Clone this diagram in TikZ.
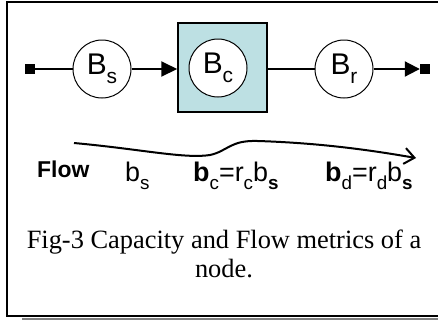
\documentclass[tikz,border=0pt]{standalone}
\usepackage{fontspec}
\setmainfont{Liberation Serif}
\setsansfont{Liberation Sans}
\usetikzlibrary{arrows.meta, positioning}
\definecolor{wire}{HTML}{000000}
\definecolor{cell-fill}{HTML}{BDE0E3}
% Lowered subscript, as the drawing sets it
\newcommand{\lsub}[1]{\raisebox{-0.3em}{\scalebox{0.7}{#1}}}
\tikzset{
  wire/.style={draw=wire, line width=2bp},
  % Buffer circles
  buffer/.style={circle, draw, line width=1bp, fill=white, minimum size=58bp,
    inner sep=0pt, font=\sffamily\fontsize{30}{34}\selectfont},
  cell/.style={rectangle, draw, line width=1.5bp, fill=cell-fill,
    minimum width=89bp, minimum height=89bp},
  % End points of the path
  port/.style={rectangle, fill=wire, minimum size=10bp, inner sep=0pt},
  metric/.style={anchor=base west, inner sep=0pt, font=\sffamily\fontsize{27}{30}\selectfont},
  caption/.style={align=center, font=\fontsize{26.5}{29}\selectfont}
}

\begin{document}
\begin{tikzpicture}[x=1bp, y=-1bp]
  \useasboundingbox (0,0) rectangle (438,320);

  % ---- Frame -------------------------------------------------------------
  \draw[gray, line width=1.5bp] (22,319) -- (440,319);
  \draw[line width=2bp] (440,2) -- (7,2) -- (7,316) -- (440,316);

  % ---- Nodes ---------------------------------------------------------------
  \node[cell] (cbox) at (222.5,67.5) {};
  \node[port] (src) at (30,69) {};
  \node[buffer] (bs) at (102,69) {B\lsub{s}};
  \node[buffer] (bc) at (218,68) {B\lsub{c}};
  \node[buffer] (br) at (344,69) {B\lsub{r}};
  \node[port] (snk) at (425,69) {};

  % ---- Links ---------------------------------------------------------------
  \draw[wire] (src) -- (bs);
  \draw[wire, -{Triangle[length=16bp, width=15bp]}] (bs) -- (bs -| cbox.west);
  \draw[wire] (br -| cbox.east) -- (br);
  \draw[wire, -{Triangle[length=15bp, width=15bp]}] (br) -- (snk.west);

  % ---- Flow curve ---------------------------------------------------------
  \draw[line width=2bp, -{Straight Barb[length=10bp, width=16bp]}]
    (74,143) .. controls (140,149) and (185,159) .. (210,155)
    .. controls (228,151) and (230,140) .. (258,141)
    .. controls (320,143) and (370,150) .. (416,158);

  % ---- Metrics -------------------------------------------------------------
  \node[metric, font=\sffamily\bfseries\fontsize{23}{26}\selectfont] (flow) at (37,177) {Flow};
  \node[metric] (ms) at (125,181) {b\lsub{s}};
  \node[metric] (mc) at (193,181) {\textbf{b}\lsub{c}=r\lsub{c}b\lsub{\textbf{s}}};
  \node[metric] (md) at (325,181) {\textbf{b}\lsub{d}=r\lsub{d}b\lsub{\textbf{s}}};

  % ---- Caption -------------------------------------------------------------
  \node[caption, anchor=base] (cap) at (224,277) {Fig-3 Capacity and Flow metrics of a\\node.};

\end{tikzpicture}
\end{document}
